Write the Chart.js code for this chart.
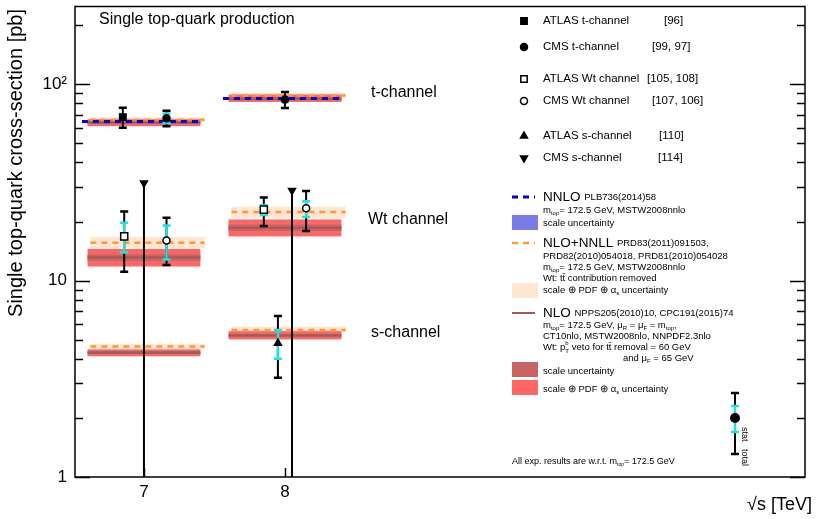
<!DOCTYPE html>
<html>
<head>
<meta charset="utf-8">
<script src="https://cdn.jsdelivr.net/npm/chart.js@4.4.1/dist/chart.umd.min.js"></script>
<style>
  html, body { margin: 0; padding: 0; background: #fff; }
  #wrap { width: 830px; height: 519px; }
</style>
</head>
<body>
<div id="wrap"><canvas id="c" width="830" height="519"></canvas></div>
<script>
// axes
const energies = [7, 8];
const xTicks = [7, 8];
const xTickLabels = ['7', '8'];
const yTicks = [1, 2, 3, 4, 5, 6, 7, 8, 9, 10, 20, 30, 40, 50, 60, 70, 80, 90, 100, 200];
const yLabelValues = [1, 10, 100];
const yTickLabels = ['1', '10', '10²'];

// NNLO (t-channel only)
const nnloT = [64.6, 84.7];
const nnloTLo = [63.8, 84.0];
const nnloTHi = [65.7, 85.7];

// NLO+NNLL
const nnllT = [65.9, 87.8];
const nnllTLo = [63.8, 85.0];
const nnllTHi = [68.0, 90.5];
const nnllW = [15.6, 22.4];
const nnllWLo = [14.6, 20.9];
const nnllWHi = [16.7, 23.8];
const nnllS = [4.62, 5.61];
const nnllSLo = [4.50, 5.43];
const nnllSHi = [4.77, 5.84];

// NLO
const nloT = [63.9, 84.4];
const nloTScaleLo = [62.7, 82.7];
const nloTScaleHi = [65.2, 86.2];
const nloTTotLo = [61.2, 81.3];
const nloTTotHi = [66.4, 88.7];
const nloW = [13.1, 18.6];
const nloWScaleLo = [12.6, 17.9];
const nloWScaleHi = [13.6, 19.3];
const nloWTotLo = [11.8, 16.8];
const nloWTotHi = [14.5, 20.5];
const nloS = [4.30, 5.26];
const nloSScaleLo = [4.22, 5.16];
const nloSScaleHi = [4.39, 5.37];
const nloSTotLo = [4.12, 5.02];
const nloSTotHi = [4.47, 5.53];

// measurements
const atlasTX = [6.85];
const atlasTY = [68.0];
const atlasTTot = [8.0];
const atlasTStat = [2.0];
const cmsTX = [7.16, 8.0];
const cmsTY = [67.2, 83.6];
const cmsTTot = [6.1, 7.8];
const cmsTStat = [3.7, 2.3];
const atlasWX = [6.86, 7.85];
const atlasWY = [16.8, 23.0];
const atlasWTotUp = [5.7, 3.5];
const atlasWTotDn = [5.7, 4.0];
const atlasWStatUp = [2.9, 1.2];
const atlasWStatDn = [2.9, 1.4];
const cmsWX = [7.16, 8.15];
const cmsWY = [16.0, 23.4];
const cmsWTotUp = [4.9, 5.2];
const cmsWTotDn = [4.0, 5.5];
const cmsWStatUp = [3.1, 2.0];
const cmsWStatDn = [3.2, 2.3];
const atlasSX = [7.95];
const atlasSY = [4.8];
const atlasSTotUp = [1.8];
const atlasSTotDn = [1.6];
const atlasSStatUp = [0.8];
const atlasSStatDn = [0.8];
const cmsSX = [7.0, 8.05];
const cmsSLimit = [31.4, 28.8];

const FONT = '"Liberation Sans", Arial, Helvetica, sans-serif';
const COL = {
  blue: '#0000d0',
  blueBand: '#7b7be6',
  orange: '#ff9933',
  orangeBand: '#fde6d2',
  red: '#ff6666',
  darkRed: '#c86464',
  brown: '#9c5a5a',
  cyan: '#20e0e0'
};
// band extents relative to the energy point
const nloDX = [-0.40, 0.40];
const nnllDX = [-0.38, 0.43];
const nnloDX = [-0.44, 0.40];

const pts = (xs, ys) => xs.map((v, i) => ({ x: v, y: ys[i] }));

function rich(ctx, x, y, parts) {
  let cx = x;
  for (const [t, s, dy] of parts) {
    ctx.font = s + 'px ' + FONT;
    ctx.fillText(t, cx, y + (dy || 0));
    cx += ctx.measureText(t).width;
  }
  return cx;
}

function errBar(ctx, px, p0, p1, color, w) {
  ctx.strokeStyle = color;
  ctx.lineWidth = w;
  ctx.beginPath();
  ctx.moveTo(px, p0); ctx.lineTo(px, p1);
  ctx.stroke();
  ctx.lineWidth = 2.5;
  ctx.beginPath();
  ctx.moveTo(px - 4, p0); ctx.lineTo(px + 4, p0);
  ctx.moveTo(px - 4, p1); ctx.lineTo(px + 4, p1);
  ctx.stroke();
}

let barsDone = false;

const physPlugin = {
  id: 'phys',
  beforeDatasetsDraw(chart) {
    const { ctx, chartArea: a, scales: { x, y } } = chart;
    barsDone = false;
    ctx.save();
    ctx.beginPath();
    ctx.rect(a.left, a.top, a.right - a.left, a.bottom - a.top);
    ctx.clip();
    const band = (e, dx, lo, hi, color) => {
      const x0 = x.getPixelForValue(e + dx[0]), x1 = x.getPixelForValue(e + dx[1]);
      const y0 = y.getPixelForValue(hi), y1 = y.getPixelForValue(lo);
      ctx.fillStyle = color;
      ctx.fillRect(x0, y0, x1 - x0, y1 - y0);
    };
    const hline = (e, dx, v, color, w, dash) => {
      ctx.strokeStyle = color;
      ctx.lineWidth = w;
      ctx.setLineDash(dash);
      ctx.beginPath();
      const py = y.getPixelForValue(v);
      ctx.moveTo(x.getPixelForValue(e + dx[0]), py);
      ctx.lineTo(x.getPixelForValue(e + dx[1]), py);
      ctx.stroke();
      ctx.setLineDash([]);
    };
    energies.forEach((e, i) => {
      band(e, nnloDX, nnloTLo[i], nnloTHi[i], COL.blueBand);
      band(e, nnllDX, nnllTLo[i], nnllTHi[i], COL.orangeBand);
      band(e, nnllDX, nnllWLo[i], nnllWHi[i], COL.orangeBand);
      band(e, nnllDX, nnllSLo[i], nnllSHi[i], COL.orangeBand);
      band(e, nloDX, nloTTotLo[i], nloTTotHi[i], COL.red);
      band(e, nloDX, nloWTotLo[i], nloWTotHi[i], COL.red);
      band(e, nloDX, nloSTotLo[i], nloSTotHi[i], COL.red);
      band(e, nloDX, nloTScaleLo[i], nloTScaleHi[i], COL.darkRed);
      band(e, nloDX, nloWScaleLo[i], nloWScaleHi[i], COL.darkRed);
      band(e, nloDX, nloSScaleLo[i], nloSScaleHi[i], COL.darkRed);
      hline(e, nloDX, nloT[i], COL.brown, 2, []);
      hline(e, nloDX, nloW[i], COL.brown, 2, []);
      hline(e, nloDX, nloS[i], COL.brown, 2, []);
      hline(e, nnllDX, nnllT[i], COL.orange, 2.5, [6, 5]);
      hline(e, nnllDX, nnllW[i], COL.orange, 2.5, [6, 5]);
      hline(e, nnllDX, nnllS[i], COL.orange, 2.5, [6, 5]);
      hline(e, nnloDX, nnloT[i], COL.blue, 3, [6, 5]);
    });
    // CMS s-channel upper limits
    cmsSX.forEach((v, i) => {
      const px = x.getPixelForValue(v);
      ctx.strokeStyle = '#000';
      ctx.lineWidth = 2;
      ctx.beginPath();
      ctx.moveTo(px, y.getPixelForValue(cmsSLimit[i]));
      ctx.lineTo(px, a.bottom);
      ctx.stroke();
    });
    ctx.restore();
  },
  beforeDatasetDraw(chart) {
    if (barsDone) return;
    barsDone = true;
    const { ctx, scales: { x, y } } = chart;
    ctx.save();
    const both = (xs, ys, tu, td, su, sd) => {
      xs.forEach((v, i) => {
        const px = x.getPixelForValue(v);
        errBar(ctx, px, y.getPixelForValue(ys[i] + tu[i]), y.getPixelForValue(ys[i] - td[i]), '#000', 2);
        errBar(ctx, px, y.getPixelForValue(ys[i] + su[i]), y.getPixelForValue(ys[i] - sd[i]), COL.cyan, 2.5);
      });
    };
    both(atlasTX, atlasTY, atlasTTot, atlasTTot, atlasTStat, atlasTStat);
    both(cmsTX, cmsTY, cmsTTot, cmsTTot, cmsTStat, cmsTStat);
    both(atlasWX, atlasWY, atlasWTotUp, atlasWTotDn, atlasWStatUp, atlasWStatDn);
    both(cmsWX, cmsWY, cmsWTotUp, cmsWTotDn, cmsWStatUp, cmsWStatDn);
    both(atlasSX, atlasSY, atlasSTotUp, atlasSTotDn, atlasSStatUp, atlasSStatDn);
    ctx.restore();
  },
  afterDraw(chart) {
    const { ctx, chartArea: a, scales: { x, y } } = chart;
    ctx.save();
    // frame and inside ticks
    ctx.strokeStyle = '#000';
    ctx.lineWidth = 1.5;
    ctx.strokeRect(a.left, a.top, a.right - a.left, a.bottom - a.top);
    ctx.beginPath();
    yTicks.forEach(v => {
      const py = Math.round(y.getPixelForValue(v)) + 0.5;
      const len = yLabelValues.includes(v) ? 15 : 8;
      ctx.moveTo(a.left, py); ctx.lineTo(a.left + len, py);
      ctx.moveTo(a.right, py); ctx.lineTo(a.right - len, py);
    });
    xTicks.forEach(v => {
      const px = Math.round(x.getPixelForValue(v)) + 0.5;
      ctx.moveTo(px, a.bottom); ctx.lineTo(px, a.bottom - 9);
    });
    ctx.stroke();

    ctx.fillStyle = '#000';
    ctx.textBaseline = 'middle';
    ctx.textAlign = 'left';

    // titles
    ctx.font = '16px ' + FONT;
    ctx.fillText('Single top-quark production', 99, 20);
    ctx.fillText('t-channel', 371, 93);
    ctx.fillText('Wt channel', 368, 220);
    ctx.fillText('s-channel', 371, 333);

    ctx.font = '18px ' + FONT;
    ctx.textAlign = 'right';
    ctx.fillText('√s [TeV]', 812, 505);
    ctx.font = '20px ' + FONT;
    ctx.save();
    ctx.translate(16, 9);
    ctx.rotate(-Math.PI / 2);
    ctx.fillText('Single top-quark cross-section [pb]', 0, 0);
    ctx.restore();
    ctx.textAlign = 'left';

    // measurement legend
    const mk = (style, filled, cx, cy, r, rot) => {
      ctx.fillStyle = filled ? '#000' : '#fff';
      ctx.strokeStyle = '#000';
      ctx.lineWidth = 1.5;
      Chart.helpers.drawPoint(ctx, { pointStyle: style, rotation: rot || 0, radius: r, borderWidth: 1.5 }, cx, cy);
      ctx.fillStyle = '#000';
    };
    const rows = [
      ['rect', true, 4.5, 0, 21, 'ATLAS t-channel', '[96]', 664],
      ['circle', true, 3.5, 0, 47, 'CMS t-channel', '[99, 97]', 652],
      ['rect', false, 4.5, 0, 79, 'ATLAS Wt channel', '[105, 108]', 647],
      ['circle', false, 3.5, 0, 101, 'CMS Wt channel', '[107, 106]', 652],
      ['triangle', true, 4, 0, 136, 'ATLAS s-channel', '[110]', 659],
      ['triangle', true, 4, 180, 158, 'CMS s-channel', '[114]', 658]
    ];
    rows.forEach(([st, f, r, rot, ry, label, ref, rx]) => {
      mk(st, f, 524, ry, r, rot);
      ctx.font = '11.5px ' + FONT;
      ctx.fillText(label, 543, ry);
      ctx.fillText(ref, rx, ry);
    });

    // theory legend
    const SM = 9.5;
    const dash = (yy, color, w) => {
      ctx.strokeStyle = color;
      ctx.lineWidth = w;
      ctx.setLineDash([6, 5]);
      ctx.beginPath(); ctx.moveTo(512, yy); ctx.lineTo(535, yy); ctx.stroke();
      ctx.setLineDash([]);
    };
    const box = (y0, color) => { ctx.fillStyle = color; ctx.fillRect(512, y0, 26, 15); ctx.fillStyle = '#000'; };
    const mtop = (xx, yy, rest) => rich(ctx, xx, yy, [['m', SM], ['top', 6, 3], ['= 172.5 GeV' + rest, SM]]);
    const unc = (yy) => rich(ctx, 543, yy, [['scale ⊕ PDF ⊕ α', SM], ['s', 6, 3], [' uncertainty', SM]]);

    dash(197, COL.blue, 3);
    rich(ctx, 543, 197, [['NNLO ', 13.5], ['PLB736(2014)58', SM]]);
    mtop(543, 210, ', MSTW2008nnlo');
    box(215, COL.blueBand);
    ctx.font = SM + 'px ' + FONT;
    ctx.fillText('scale uncertainty', 543, 223);

    dash(243, COL.orange, 2.5);
    rich(ctx, 543, 243, [['NLO+NNLL ', 13.5], ['PRD83(2011)091503,', SM]]);
    ctx.font = SM + 'px ' + FONT;
    ctx.fillText('PRD82(2010)054018, PRD81(2010)054028', 543, 256);
    mtop(543, 267, ', MSTW2008nnlo');
    ctx.font = SM + 'px ' + FONT;
    ctx.fillText('Wt: tt\u0304 contribution removed', 543, 278);
    box(283, COL.orangeBand);
    unc(290);

    ctx.strokeStyle = COL.brown;
    ctx.lineWidth = 2;
    ctx.beginPath(); ctx.moveTo(512, 313); ctx.lineTo(535, 313); ctx.stroke();
    rich(ctx, 543, 313, [['NLO ', 13.5], ['NPPS205(2010)10, CPC191(2015)74', SM]]);
    let cx = mtop(543, 325, ', ');
    rich(ctx, cx, 325, [['μ', SM], ['R', 6, 3], [' = μ', SM], ['F', 6, 3], [' = m', SM], ['top', 6, 3], [',', SM]]);
    ctx.font = SM + 'px ' + FONT;
    ctx.fillText('CT10nlo, MSTW2008nlo, NNPDF2.3nlo', 543, 336);
    cx = rich(ctx, 543, 347, [['Wt: p', SM]]);
    ctx.font = '6px ' + FONT;
    ctx.fillText('b', cx, 343);
    ctx.fillText('T', cx, 351);
    rich(ctx, cx + 4, 347, [[' veto for tt\u0304 removal = 60 GeV', SM]]);
    rich(ctx, 623, 358, [['and μ', SM], ['F', 6, 3], [' = 65 GeV', SM]]);
    box(362, COL.darkRed);
    ctx.font = SM + 'px ' + FONT;
    ctx.fillText('scale uncertainty', 543, 371);
    box(380, COL.red);
    unc(389);

    // stat / total key
    errBar(ctx, 735, 393, 454, '#000', 2);
    errBar(ctx, 735, 406, 432, COL.cyan, 2.5);
    ctx.beginPath(); ctx.arc(735, 418, 5, 0, Math.PI * 2); ctx.fillStyle = '#000'; ctx.fill();
    ctx.save();
    ctx.translate(744, 427);
    ctx.rotate(Math.PI / 2);
    ctx.font = '9px ' + FONT;
    ctx.textAlign = 'left';
    ctx.fillText('stat   total', 0, 0);
    ctx.restore();

    rich(ctx, 512, 462, [['All exp. results are w.r.t. m', 9], ['top', 5, 3], ['= 172.5 GeV', 9]]);
    ctx.restore();
  }
};

const markerSet = (label, data, style, filled, r, rot) => ({
  label, data,
  pointStyle: style,
  pointRotation: rot || 0,
  pointRadius: r,
  pointBackgroundColor: filled ? '#000' : '#fff',
  pointBorderColor: '#000',
  pointBorderWidth: 1.5,
  showLine: false,
  order: 0
});

new Chart(document.getElementById('c'), {
  type: 'scatter',
  data: {
    datasets: [
      markerSet('ATLAS t-channel', pts(atlasTX, atlasTY), 'rect', true, 4.5),
      markerSet('CMS t-channel', pts(cmsTX, cmsTY), 'circle', true, 3.5),
      markerSet('ATLAS Wt channel', pts(atlasWX, atlasWY), 'rect', false, 5),
      markerSet('CMS Wt channel', pts(cmsWX, cmsWY), 'circle', false, 3.5),
      markerSet('ATLAS s-channel', pts(atlasSX, atlasSY), 'triangle', true, 4),
      markerSet('CMS s-channel', pts(cmsSX, cmsSLimit), 'triangle', true, 4, 180)
    ]
  },
  options: {
    responsive: false,
    animation: false,
    devicePixelRatio: 1,
    events: [],
    layout: { padding: { top: 5, right: 25, left: 0, bottom: 0 } },
    plugins: { legend: { display: false }, tooltip: { enabled: false } },
    scales: {
      x: {
        type: 'linear',
        min: 6.511,
        max: 11.688,
        afterFit: s => { s.height = 42; s.paddingLeft = 0; s.paddingRight = 0; },
        afterBuildTicks: s => { s.ticks = xTicks.map(v => ({ value: v })); },
        grid: { display: false, drawTicks: false },
        border: { display: false },
        ticks: {
          autoSkip: false,
          maxRotation: 0,
          padding: 5,
          color: '#000',
          font: { family: FONT, size: 17 },
          callback: v => xTickLabels[xTicks.indexOf(v)] ?? ''
        }
      },
      y: {
        type: 'logarithmic',
        min: 1,
        max: 249,
        afterFit: s => { s.width = 75; s.paddingTop = 0; s.paddingBottom = 0; },
        afterBuildTicks: s => { s.ticks = yTicks.map(v => ({ value: v })); },
        grid: { display: false, drawTicks: false },
        border: { display: false },
        ticks: {
          autoSkip: false,
          padding: 8,
          color: '#000',
          font: { family: FONT, size: 17 },
          callback: v => yTickLabels[yLabelValues.indexOf(v)] ?? ''
        }
      }
    }
  },
  plugins: [physPlugin]
});
</script>
</body>
</html>
